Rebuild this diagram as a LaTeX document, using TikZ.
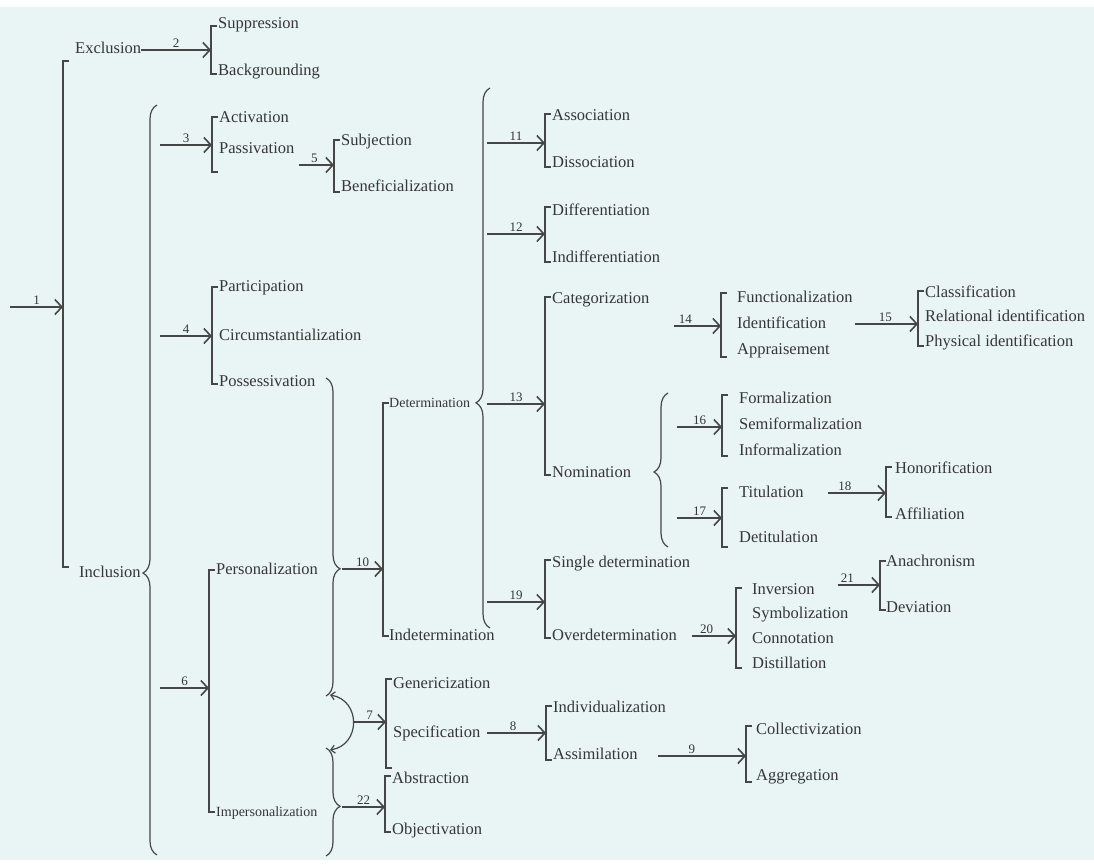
\documentclass[tikz,border=0pt]{standalone}
\usepackage{fontspec}
\setmainfont{Liberation Serif}
\usetikzlibrary{arrows.meta,decorations.pathreplacing}
\definecolor{ink}{HTML}{363636}
\definecolor{rule}{HTML}{464646}
\definecolor{paper}{HTML}{E9F5F4}
% square bracket: x, top y, bottom y
\newcommand{\sqbrk}[3]{\draw[brk] (#1+6,#2) -| (#1,#3) -- ++(6,0);}

\begin{document}
\begin{tikzpicture}[x=1pt,y=-1pt,font=\fontsize{16.5}{18}\selectfont,
  >={Straight Barb[length=7pt,width=15pt]},
  lbl/.style={anchor=west,inner sep=0pt,text=ink,text height=11pt,text depth=3pt},
  lbls/.style={lbl,font=\fontsize{14}{16}\selectfont},
  num/.style={midway,above=1pt,inner sep=1pt,text=ink,font=\fontsize{13}{14}\selectfont},
  arr/.style={->,draw=rule,line width=1.6pt},
  brk/.style={draw=rule,line width=1.2pt},
  cbr/.style={brk,decorate,decoration={brace,amplitude=14pt,aspect=#1}}]
\useasboundingbox (0,0) rectangle (1094,864);
\fill[paper] (0,7) rectangle (1094,860);

% 1: exclusion or inclusion
\coordinate (s1) at (10,307);
\coordinate (k1) at (63,307);
\sqbrk{63}{61}{567}
\draw[arr] (s1) -- node[num]{1} (k1);
\node[lbl] (excl) at (75,50) {Exclusion};
\node[lbl] (incl) at (79,573) {Inclusion};

% 2
\sqbrk{211}{26}{74}
\coordinate (k2) at (211,50);
\node[lbl] (suppr) at (218,25) {Suppression};
\node[lbl] (backg) at (218,72) {Backgrounding};
\draw[arr] (excl) -- node[num]{2} (k2);

% inclusion brace
\draw[cbr=0.376] (157,855) -- (157,105);
\coordinate (i3) at (160,145);
\coordinate (i4) at (160,336);
\coordinate (i6) at (160,688);

% 3 and 5
\sqbrk{212}{117}{172}
\coordinate (k3) at (212,145);
\node[lbl] (activ) at (219,119) {Activation};
\node[lbl] (passiv) at (219,149) {Passivation};
\draw[arr] (i3) -- node[num]{3} (k3);
\sqbrk{334}{140}{192}
\coordinate (k5) at (334,165);
\node[lbl] (subj) at (341,142) {Subjection};
\node[lbl] (benef) at (341,187) {Beneficialization};
\draw[arr,shorten <=4pt] (passiv.east |- k5) -- node[num]{5} (k5);

% 4
\sqbrk{212}{287}{384}
\coordinate (k4) at (212,336);
\foreach \n/\y/\t in {partic/287/Participation, circ/336/Circumstantialization, posse/382/Possessivation}
  \node[lbl] (\n) at (219,\y) {\t};
\draw[arr] (i4) -- node[num]{4} (k4);

% 6
\sqbrk{209}{570}{812}
\coordinate (k6) at (209,688);
\node[lbl] (perso) at (216,570) {Personalization};
\node[lbls] (impers) at (216,812) {Impersonalization};
\draw[arr] (i6) -- node[num]{6} (k6);

% the two braces and the loop joining them
\draw[cbr=0.6] (326,378) -- (326,696);
\draw[cbr=0.54] (326,748) -- (326,856);
\draw[brk,<->,>={Straight Barb[length=4pt,width=8pt]}] (330,695) .. controls (361,700) and (361,745) .. (330,750);
\coordinate (j7) at (353,722);
\coordinate (t10) at (342,569);
\coordinate (t22) at (342,807);

% 7
\sqbrk{386}{679}{768}
\coordinate (k7) at (386,722);
\node[lbl] (gener) at (393,684) {Genericization};
\node[lbl] (speci) at (393,733) {Specification};
\draw[arr] (j7) -- node[num]{7} (k7);

% 10
\sqbrk{383}{403}{636}
\coordinate (k10) at (383,569);
\node[lbls] (deter) at (389,403) {Determination};
\node[lbl] (indet) at (389,636) {Indetermination};
\draw[arr] (t10) -- node[num]{10} (k10);

% 22
\sqbrk{385}{776}{832}
\coordinate (k22) at (385,807);
\node[lbl] (abstr) at (392,779) {Abstraction};
\node[lbl] (objec) at (392,830) {Objectivation};
\draw[arr] (t22) -- node[num]{22} (k22);

% 8 and 9
\sqbrk{546}{706}{760}
\coordinate (k8) at (546,733);
\node[lbl] (indiv) at (553,708) {Individualization};
\node[lbl] (assim) at (553,755) {Assimilation};
\draw[arr,shorten <=7pt] (speci) -- node[num]{8} (k8);
\sqbrk{746}{726}{782}
\coordinate (k9) at (746,756);
\node[lbl] (colle) at (756,730) {Collectivization};
\node[lbl] (aggre) at (756,776) {Aggregation};
\draw[arr,shorten <=20pt] (assim.east |- k9) -- node[num]{9} (k9);

% determination brace
\draw[cbr=0.417] (490,628) -- (490,88);
\coordinate (d11) at (487,143);
\coordinate (d12) at (487,234);
\coordinate (d13) at (487,404);
\coordinate (d19) at (487,602);

% 11 and 12
\sqbrk{545}{114}{167}
\coordinate (k11) at (545,143);
\node[lbl] (assoc) at (552,117) {Association};
\node[lbl] (disso) at (552,163) {Dissociation};
\draw[arr] (d11) -- node[num]{11} (k11);
\sqbrk{545}{207}{262}
\coordinate (k12) at (545,234);
\node[lbl] (diffe) at (552,211) {Differentiation};
\node[lbl] (indif) at (552,258) {Indifferentiation};
\draw[arr] (d12) -- node[num]{12} (k12);

% 13
\sqbrk{545}{297}{475}
\coordinate (k13) at (545,404);
\node[lbl] (categ) at (552,299) {Categorization};
\node[lbl] (nomin) at (552,473) {Nomination};
\draw[arr] (d13) -- node[num]{13} (k13);

% 14 and 15
\sqbrk{721}{293}{357}
\coordinate (k14) at (721,326);
\foreach \n/\y/\t in {funct/298/Functionalization, ident/324/Identification, appra/350/Appraisement}
  \node[lbl] (\n) at (737,\y) {\t};
\draw[arr,shorten <=24pt] (categ.east |- k14) -- node[num]{14} (k14);
\sqbrk{918}{291}{346}
\coordinate (k15) at (918,324);
\foreach \n/\y/\t in {class/293/Classification, relat/317/Relational identification, physi/342/Physical identification}
  \node[lbl] (\n) at (925,\y) {\t};
\draw[arr,shorten <=2pt] (funct.east |- k15) -- node[num]{15} (k15);

% nomination brace, 16, 17, 18
\draw[cbr=0.487] (668,547) -- (668,393);
\coordinate (n16) at (677,427);
\coordinate (n17) at (677,518);
\sqbrk{722}{395}{456}
\coordinate (k16) at (722,427);
\foreach \n/\y/\t in {forma/399/Formalization, semif/425/Semiformalization, infor/451/Informalization}
  \node[lbl] (\n) at (739,\y) {\t};
\draw[arr] (n16) -- node[num]{16} (k16);
\sqbrk{722}{488}{547}
\coordinate (k17) at (722,518);
\node[lbl] (titul) at (739,493) {Titulation};
\node[lbl] (detit) at (739,538) {Detitulation};
\draw[arr] (n17) -- node[num]{17} (k17);
\sqbrk{886}{467}{517}
\coordinate (k18) at (886,493);
\node[lbl] (honor) at (895,469) {Honorification};
\node[lbl] (affil) at (895,515) {Affiliation};
\draw[arr,shorten <=24pt] (titul.east |- k18) -- node[num]{18} (k18);

% 19, 20, 21
\sqbrk{545}{560}{638}
\coordinate (k19) at (545,602);
\node[lbl] (singl) at (552,563) {Single determination};
\node[lbl] (overd) at (552,636) {Overdetermination};
\draw[arr] (d19) -- node[num]{19} (k19);
\sqbrk{736}{588}{668}
\coordinate (k20) at (736,636);
\foreach \n/\y/\t in {inver/590/Inversion, symbo/614/Symbolization, conno/639/Connotation, disti/664/Distillation}
  \node[lbl] (\n) at (752,\y) {\t};
\draw[arr,shorten <=15pt] (overd) -- node[num]{20} (k20);
\sqbrk{880}{561}{610}
\coordinate (k21) at (880,585);
\node[lbl] (anach) at (886,562) {Anachronism};
\node[lbl] (devia) at (886,608) {Deviation};
\draw[arr,shorten <=23pt] (inver.east |- k21) -- node[num]{21} (k21);
\end{tikzpicture}
\end{document}
